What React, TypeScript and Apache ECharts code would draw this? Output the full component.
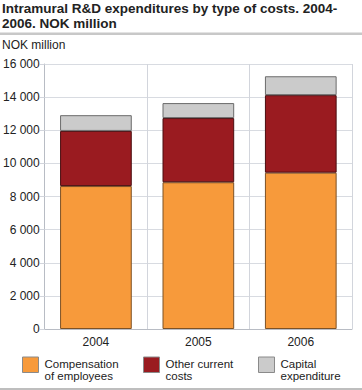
import React, { useEffect, useRef } from "react";
import * as echarts from "echarts";

const categories = ["2004", "2005", "2006"];
const compensation = [8630, 8860, 9440];
const otherCurrent = [3330, 3875, 4680];
const capital = [950, 905, 1140];
const yTicks = { min: 0, max: 16000, interval: 2000 };
const seriesNames = ["Compensation\nof employees", "Other current\ncosts", "Capital\nexpenditure"];

const FONT = "Liberation Sans, Arial, sans-serif";

export default function App() {
  const ref = useRef<HTMLDivElement>(null);
  useEffect(() => {
    const chart = echarts.init(ref.current!, null, { renderer: "svg" });
    const colors = ["#f79a3b", "#9a1b20", "#cbcbcb"];
    const borders = ["#7d5226", "#4a0e10", "#6b6b6b"];
    const datas = [compensation, otherCurrent, capital];
    const legendX = [22, 143, 258];
    const legendGraphics: any[] = [];
    seriesNames.forEach((n, i) => {
      legendGraphics.push({
        type: "rect",
        shape: { x: legendX[i] + 0.5, y: 357, width: 16, height: 15.5 },
        style: { fill: colors[i], stroke: "#8a8a8a", lineWidth: 1 },
      });
      legendGraphics.push({
        type: "text",
        x: legendX[i] + 22.5,
        y: 370.2,
        style: {
          text: n,
          font: `11.5px ${FONT}`,
          fill: "#222",
          lineHeight: 11.8,
          verticalAlign: "middle",
          align: "left",
        },
      });
    });
    chart.setOption({
      animation: false,
      textStyle: { fontFamily: FONT },
      title: {
        text: "Intramural R&D expenditures by type of costs. 2004-\n2006. NOK million",
        left: 2,
        top: 1.5,
        padding: 0,
        textStyle: { fontSize: 13.5, fontWeight: "bold", color: "#222", lineHeight: 14.5, fontFamily: FONT },
      },
      graphic: [
        { type: "line", shape: { x1: 0, y1: 33.7, x2: 362, y2: 33.7 }, style: { stroke: "#c8c8c8", lineWidth: 2.5 } },
        { type: "line", shape: { x1: 0, y1: 389, x2: 362, y2: 389 }, style: { stroke: "#a8a8a8", lineWidth: 1.5 } },
        { type: "text", left: 2, top: 39, style: { text: "NOK million", font: `12px ${FONT}`, fill: "#222" } },
        ...legendGraphics,
      ],
      grid: { left: 41, right: 10, top: 64, bottom: 61 },
      xAxis: {
        type: "category",
        data: categories,
        axisLine: { lineStyle: { color: "#b8bcc4" } },
        axisTick: { show: false },
        splitLine: { show: true, lineStyle: { color: "#d2d5dc" } },
        axisLabel: { fontSize: 12, color: "#222", margin: 7 },
      },
      yAxis: {
        type: "value",
        min: yTicks.min,
        max: yTicks.max,
        interval: yTicks.interval,
        axisLine: { show: true, lineStyle: { color: "#b8bcc4" } },
        axisTick: { show: true, length: 5, lineStyle: { color: "#d2d5dc" } },
        splitLine: { lineStyle: { color: "#d8dbe1" } },
        axisLabel: {
          fontSize: 12,
          color: "#222",
          margin: 5,
          formatter: (v: number) => String(v).replace(/\B(?=(\d{3})+(?!\d))/g, " "),
        },
      },
      series: seriesNames.map((n, i) => ({
        name: n,
        type: "bar",
        stack: "total",
        barWidth: "70%",
        data: datas[i],
        itemStyle: { color: colors[i], borderColor: borders[i], borderWidth: 1 },
      })),
    });
    return () => chart.dispose();
  }, []);
  return <div ref={ref} style={{ width: 362, height: 390, position: "absolute", left: 0, top: 0 }} />;
}
